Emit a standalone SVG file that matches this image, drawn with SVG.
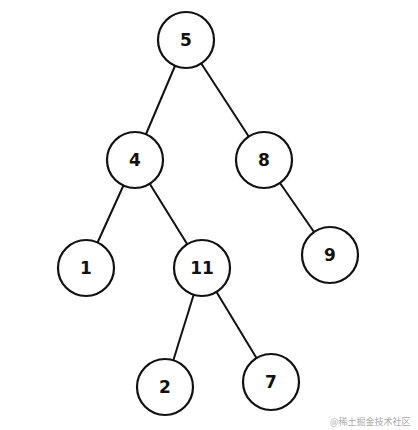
<svg xmlns="http://www.w3.org/2000/svg" width="418" height="430" viewBox="0 0 418 430">
<style>
.n circle{fill:#fff;stroke:#111;stroke-width:2.2}
.n text{font-family:"DejaVu Sans","Liberation Sans",sans-serif;font-weight:bold;font-size:17px;fill:#111;text-anchor:middle;dominant-baseline:central}
.e line{stroke:#111;stroke-width:2}
.wm{font-family:"Noto Sans CJK SC",sans-serif;font-size:9px;fill:#aaa}
</style>
<rect width="418" height="430" fill="#fff"/>
<g class="e" id="connectors">
<line x1="186" y1="40" x2="135" y2="160"/>
<line x1="186" y1="40" x2="264" y2="160"/>
<line x1="135" y1="160" x2="86" y2="268"/>
<line x1="135" y1="160" x2="202" y2="268"/>
<line x1="264" y1="160" x2="330" y2="255"/>
<line x1="202" y1="268" x2="165" y2="387"/>
<line x1="202" y1="268" x2="271" y2="382"/>
</g>
<g class="n" id="node5"><circle cx="186" cy="40" r="28"/><text x="186" y="40">5</text></g>
<g class="n" id="node4"><circle cx="135" cy="160" r="28"/><text x="135" y="160">4</text></g>
<g class="n" id="node8"><circle cx="264" cy="160" r="28"/><text x="264" y="160">8</text></g>
<g class="n" id="node1"><circle cx="86" cy="268" r="28"/><text x="86" y="268">1</text></g>
<g class="n" id="node11"><circle cx="202" cy="268" r="28"/><text x="202" y="268">11</text></g>
<g class="n" id="node9"><circle cx="330" cy="255" r="28"/><text x="330" y="255">9</text></g>
<g class="n" id="node2"><circle cx="165" cy="387" r="28"/><text x="165" y="387">2</text></g>
<g class="n" id="node7"><circle cx="271" cy="382" r="28"/><text x="271" y="382">7</text></g>
<text class="wm" x="330" y="425">@稀土掘金技术社区</text>
</svg>
